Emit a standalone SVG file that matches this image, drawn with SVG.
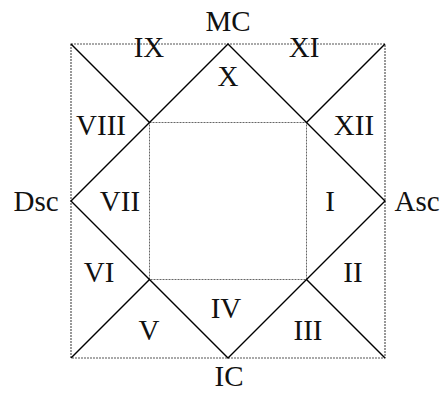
<svg xmlns="http://www.w3.org/2000/svg" width="443" height="393" viewBox="0 0 443 393">
<style>
.frame{fill:none;stroke:#555;stroke-width:1.2;stroke-dasharray:2 1}
.inner{fill:none;stroke:#666;stroke-width:1;stroke-dasharray:2 1}
.ln{fill:none;stroke:#000;stroke-width:1.4}
text{font-family:"Liberation Serif","Times New Roman",serif;font-size:29px;fill:#111;text-anchor:middle}
</style>
<rect width="443" height="393" fill="#fff"/>
<g id="connectors">
<rect class="frame" x="71" y="44" width="314" height="314"/>
<rect class="inner" x="149.5" y="122.5" width="157" height="157"/>
<polygon class="ln" points="228,44 385,201 228,358 71,201"/>
<line class="ln" x1="71" y1="44" x2="149.5" y2="122.5"/>
<line class="ln" x1="385" y1="44" x2="306.5" y2="122.5"/>
<line class="ln" x1="71" y1="358" x2="149.5" y2="279.5"/>
<line class="ln" x1="385" y1="358" x2="306.5" y2="279.5"/>
</g>
<g id="MC"><text x="228" y="31">MC</text></g>
<g id="IC"><text x="229" y="386">IC</text></g>
<g id="Dsc"><text x="36" y="211">Dsc</text></g>
<g id="Asc"><text x="417" y="211">Asc</text></g>
<g id="h1"><text x="330" y="211">I</text></g>
<g id="h2"><text x="353" y="282">II</text></g>
<g id="h3"><text x="308" y="340">III</text></g>
<g id="h4"><text x="226" y="318">IV</text></g>
<g id="h5"><text x="149" y="340">V</text></g>
<g id="h6"><text x="99" y="282">VI</text></g>
<g id="h7"><text x="120" y="211">VII</text></g>
<g id="h8"><text x="101" y="135">VIII</text></g>
<g id="h9"><text x="149" y="57">IX</text></g>
<g id="h10"><text x="228" y="86">X</text></g>
<g id="h11"><text x="304" y="57">XI</text></g>
<g id="h12"><text x="354" y="135">XII</text></g>
</svg>
